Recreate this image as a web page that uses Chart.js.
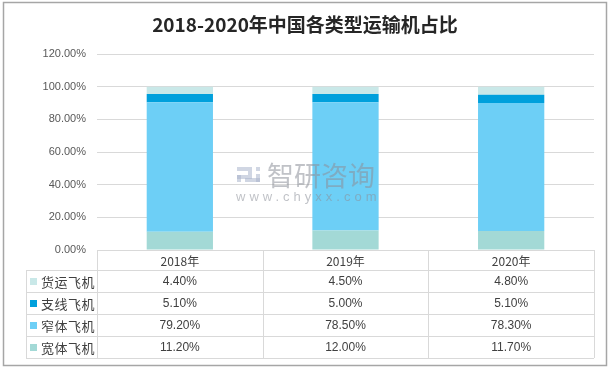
<!DOCTYPE html>
<html><head><meta charset="utf-8">
<script src="https://cdn.jsdelivr.net/npm/chart.js@4/dist/chart.umd.min.js"></script>
<style>html,body{margin:0;padding:0;background:#fff;}#wrap{width:612px;height:370px;position:relative;}</style>
</head><body><div id="wrap"><canvas id="c" width="612" height="370"></canvas></div>
<script>
const title = '2018-2020年中国各类型运输机占比';
const categories = ['2018年', '2019年', '2020年'];
const seriesNames = ['宽体飞机', '窄体飞机', '支线飞机', '货运飞机'];
const wideBody = [11.2, 12.0, 11.7];
const narrowBody = [79.2, 78.5, 78.3];
const regional = [5.1, 5.0, 5.1];
const cargo = [4.4, 4.5, 4.8];
const yTicks = [0, 20, 40, 60, 80, 100, 120];
const colors = ['#A3D9D6', '#6DCFF6', '#00A0DC', '#C9E8E8'];
const seriesValues = [wideBody, narrowBody, regional, cargo];

const CJK = '"Noto Sans CJK SC", "Noto Sans", sans-serif';
const LAT = '"Liberation Sans", "Noto Sans", sans-serif';

const decor = {
  id: 'decor',
  beforeDraw(chart) {
    const ctx = chart.ctx;
    ctx.save();
    ctx.fillStyle = '#fff';
    ctx.fillRect(0, 0, chart.width, chart.height);
    ctx.strokeStyle = '#a6a6a6';
    ctx.lineWidth = 1.5;
    ctx.strokeRect(3.5, 2.5, 603, 363);
    ctx.fillStyle = '#262626';
    ctx.font = 'bold 19px ' + CJK;
    ctx.textAlign = 'center';
    ctx.textBaseline = 'middle';
    ctx.fillText(title, 305, 25);
    ctx.restore();
  },
  afterDatasetsDraw(chart) {
    const ctx = chart.ctx;
    ctx.save();
    ctx.globalAlpha = 0.55;
    ctx.fillStyle = '#8c9099';
    ctx.font = '27px ' + CJK;
    ctx.textBaseline = 'middle';
    ctx.textAlign = 'left';
    ctx.fillText('智研咨询', 267, 176);
    ctx.font = '13px ' + LAT;
    if ('letterSpacing' in ctx) ctx.letterSpacing = '4px';
    ctx.fillText('www.chyxx.com', 236, 197);
    if ('letterSpacing' in ctx) ctx.letterSpacing = '0px';
    ctx.fillStyle = '#a9b4cc';
    ctx.fillRect(237, 167, 11, 4);
    ctx.fillRect(248, 167, 4, 12);
    ctx.fillRect(237, 175, 11, 4);
    ctx.fillRect(237, 175, 4, 7);
    ctx.fillRect(256, 167, 4, 4);
    ctx.fillRect(256, 174, 4, 8);
    ctx.fillRect(245, 178, 15, 4);
    ctx.restore();
  },
  afterDraw(chart) {
    const ctx = chart.ctx;
    const xs = chart.scales.x;
    const area = chart.chartArea;
    const colW = (area.right - area.left) / categories.length;
    const top = area.bottom;
    const headerH = 20, rowH = 22;
    const legendL = 26;
    ctx.save();
    ctx.strokeStyle = '#d9d9d9';
    ctx.lineWidth = 1;
    const nRows = seriesNames.length;
    const bottom = top + headerH + rowH * nRows;
    const hl = (y, x0, x1) => { ctx.beginPath(); ctx.moveTo(x0, Math.round(y) + 0.5); ctx.lineTo(x1, Math.round(y) + 0.5); ctx.stroke(); };
    const vl = (x, y0, y1) => { ctx.beginPath(); ctx.moveTo(Math.round(x) + 0.5, y0); ctx.lineTo(Math.round(x) + 0.5, y1); ctx.stroke(); };
    hl(top, area.left, area.right);
    for (let r = 0; r <= nRows; r++) hl(top + headerH + r * rowH, legendL, area.right);
    vl(legendL, top + headerH, bottom);
    for (let c = 0; c <= categories.length; c++) vl(area.left + c * colW, top, bottom);
    ctx.fillStyle = '#404040';
    ctx.textAlign = 'center';
    ctx.textBaseline = 'middle';
    ctx.font = '12px ' + CJK;
    categories.forEach((cat, i) => ctx.fillText(cat, xs.getPixelForValue(i), top + headerH / 2 + 1));
    for (let r = 0; r < nRows; r++) {
      const di = nRows - 1 - r;
      const yc = top + headerH + r * rowH + rowH / 2 + 1;
      ctx.fillStyle = colors[di];
      ctx.fillRect(legendL + 4, yc - 4, 7, 7);
      ctx.fillStyle = '#404040';
      ctx.textAlign = 'left';
      ctx.font = '13px ' + CJK;
      if ('letterSpacing' in ctx) ctx.letterSpacing = '0.5px';
      ctx.fillText(seriesNames[di], legendL + 15, yc);
      if ('letterSpacing' in ctx) ctx.letterSpacing = '0px';
      ctx.textAlign = 'center';
      ctx.font = '12px ' + LAT;
      seriesValues[di].forEach((v, i) => ctx.fillText(v.toFixed(2) + '%', xs.getPixelForValue(i), yc));
    }
    ctx.restore();
  }
};

new Chart(document.getElementById('c'), {
  type: 'bar',
  data: {
    labels: categories,
    datasets: seriesNames.map((n, i) => ({
      label: n,
      data: seriesValues[i],
      backgroundColor: colors[i],
      borderWidth: 0,
      categoryPercentage: 1,
      barPercentage: 0.4
    }))
  },
  options: {
    responsive: false,
    animation: false,
    devicePixelRatio: 1,
    layout: { padding: { left: 0, right: 18, top: 54, bottom: 120 } },
    plugins: { legend: { display: false }, title: { display: false }, tooltip: { enabled: false } },
    scales: {
      x: { stacked: true, display: false },
      y: {
        stacked: true,
        min: 0, max: 120,
        afterFit(s) { s.width = 97; },
        afterBuildTicks(s) { s.ticks = yTicks.map(v => ({ value: v })); },
        border: { display: false },
        grid: { color: '#d9d9d9', drawTicks: false },
        ticks: {
          padding: 11,
          color: '#595959',
          font: { family: LAT, size: 11 },
          callback: v => v.toFixed(2) + '%'
        }
      }
    }
  },
  plugins: [decor]
});
</script></body></html>
